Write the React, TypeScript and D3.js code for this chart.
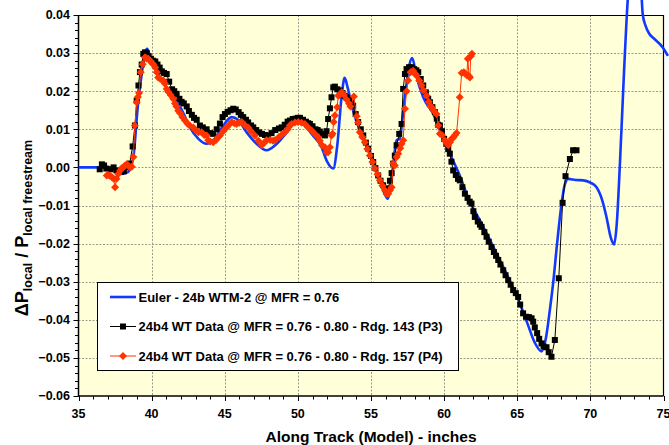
import React, { useEffect, useRef } from 'react';
import * as d3 from 'd3';

const W = 669;
const H = 445;

const xTickValues = [35, 40, 45, 50, 55, 60, 65, 70, 75];
const yTickValues = [0.04, 0.03, 0.02, 0.01, 0.0, -0.01, -0.02, -0.03, -0.04, -0.05, -0.06];

const legendLabels = [
  'Euler - 24b WTM-2 @ MFR = 0.76',
  '24b4 WT Data @ MFR = 0.76 - 0.80 - Rdg. 143 (P3)',
  '24b4 WT Data @ MFR = 0.76 - 0.80 - Rdg. 157 (P4)',
];

// Euler (blue) curve
const eulerX = [35.0, 36.0, 37.0, 37.5, 38.0, 38.4, 38.75, 39.05, 39.32, 39.55, 39.7, 39.9, 40.2, 40.57, 41.1, 41.71, 42.2, 42.62, 43.2, 43.76, 44.3, 44.9, 45.47, 45.9, 46.5, 47.18, 47.86, 48.5, 49.2, 49.7, 50.02, 50.5, 51.0, 51.6, 52.0, 52.42, 52.7, 53.0, 53.2, 53.4, 53.7, 54.02, 54.6, 55.2, 55.8, 56.13, 56.41, 56.75, 56.95, 57.3, 57.6, 57.82, 58.1, 58.57, 59.25, 59.8, 60.39, 61.0, 61.7, 62.44, 63.0, 63.59, 64.4, 65.18, 65.7, 66.2, 66.66, 66.95, 67.23, 67.45, 67.75, 68.03, 68.25, 68.48, 69.0, 69.51, 70.0, 70.42, 70.8, 71.1, 71.4, 71.62, 71.8, 72.01, 72.3, 72.55, 72.8, 73.1, 73.4, 73.58, 73.77, 74.04, 74.38, 74.95, 75.3];
const eulerY = [0.0, 0.0, 0.0, -0.0003, -0.0017, -0.0012, 0.0027, 0.0158, 0.0245, 0.03, 0.0311, 0.029, 0.0262, 0.0236, 0.0205, 0.0175, 0.014, 0.0105, 0.0075, 0.0062, 0.0075, 0.011, 0.0132, 0.0125, 0.0092, 0.0062, 0.0045, 0.006, 0.009, 0.0115, 0.0123, 0.011, 0.0085, 0.0055, 0.0015, -0.0003, 0.006, 0.019, 0.0235, 0.021, 0.016, 0.0119, 0.0065, 0.001, -0.0055, -0.0082, -0.003, 0.0071, 0.0075, 0.018, 0.0265, 0.0287, 0.024, 0.0184, 0.0141, 0.009, 0.0036, -0.0015, -0.0085, -0.0139, -0.018, -0.0226, -0.029, -0.0357, -0.041, -0.046, -0.0483, -0.045, -0.0374, -0.0305, -0.019, -0.0095, -0.0045, -0.003, -0.0033, -0.0034, -0.004, -0.0052, -0.0085, -0.013, -0.0185, -0.0202, -0.015, 0.0001, 0.025, 0.0437, 0.055, 0.058, 0.052, 0.0402, 0.0372, 0.035, 0.0337, 0.0315, 0.0293];

// WT data Rdg. 143 (P3) - black squares
const p3X = [36.45, 36.6, 36.75, 36.9, 37.2, 37.4, 37.6, 37.9, 38.1, 38.3, 38.5, 38.7, 38.86, 38.98, 39.1, 39.2, 39.32, 39.43, 39.55, 39.66, 39.8, 39.95, 40.1, 40.25, 40.4, 40.55, 40.7, 40.85, 41.03, 41.2, 41.4, 41.55, 41.71, 41.9, 42.05, 42.2, 42.4, 42.55, 42.75, 42.9, 43.08, 43.3, 43.5, 43.76, 44.0, 44.21, 44.45, 44.67, 44.85, 45.01, 45.2, 45.4, 45.58, 45.75, 45.95, 46.1, 46.26, 46.45, 46.6, 46.8, 46.95, 47.15, 47.35, 47.55, 47.75, 47.97, 48.2, 48.45, 48.7, 48.89, 49.1, 49.3, 49.46, 49.65, 49.85, 50.0, 50.14, 50.35, 50.55, 50.7, 50.82, 51.0, 51.2, 51.35, 51.5, 51.7, 51.85, 51.96, 52.07, 52.19, 52.3, 52.42, 52.53, 52.7, 52.87, 53.05, 53.2, 53.33, 53.5, 53.65, 53.78, 53.95, 54.12, 54.3, 54.47, 54.65, 54.81, 55.0, 55.15, 55.3, 55.49, 55.65, 55.83, 56.0, 56.07, 56.18, 56.3, 56.41, 56.52, 56.63, 56.75, 56.93, 57.09, 57.2, 57.32, 57.43, 57.6, 57.77, 57.95, 58.1, 58.23, 58.4, 58.57, 58.75, 58.91, 59.03, 59.2, 59.37, 59.5, 59.59, 59.71, 59.85, 60.0, 60.15, 60.28, 60.39, 60.5, 60.62, 60.8, 60.95, 61.07, 61.25, 61.42, 61.6, 61.75, 61.87, 62.0, 62.1, 62.3, 62.45, 62.56, 62.75, 62.9, 63.05, 63.24, 63.4, 63.55, 63.7, 63.85, 64.04, 64.2, 64.38, 64.55, 64.72, 64.9, 65.06, 65.2, 65.4, 65.6, 65.8, 65.98, 66.09, 66.2, 66.36, 66.5, 66.66, 66.8, 67.0, 67.15, 67.34, 67.57, 67.84, 68.1, 68.3, 68.6, 68.82, 69.05];
const p3Y = [-0.0005, 0.0008, 0.0005, -0.0003, -0.0005, 0.0, -0.0008, -0.0012, -0.001, 0.0, 0.001, 0.0055, 0.011, 0.0175, 0.0215, 0.025, 0.027, 0.0298, 0.0302, 0.03, 0.0292, 0.0285, 0.028, 0.0278, 0.027, 0.0262, 0.0252, 0.0248, 0.0245, 0.0225, 0.0205, 0.02, 0.0193, 0.018, 0.0172, 0.0168, 0.016, 0.0148, 0.0138, 0.013, 0.0125, 0.011, 0.0105, 0.01, 0.009, 0.0088, 0.01, 0.0115, 0.0132, 0.014, 0.0146, 0.015, 0.0154, 0.0152, 0.0145, 0.0138, 0.0132, 0.0125, 0.0118, 0.011, 0.0105, 0.0098, 0.0092, 0.0088, 0.0085, 0.0084, 0.009, 0.0098, 0.0102, 0.0105, 0.0112, 0.012, 0.0123, 0.0127, 0.0128, 0.013, 0.013, 0.0125, 0.012, 0.0116, 0.0114, 0.0108, 0.01, 0.0098, 0.0094, 0.0088, 0.0084, 0.0095, 0.0127, 0.0155, 0.0184, 0.021, 0.0212, 0.0205, 0.0202, 0.0195, 0.0188, 0.0184, 0.0178, 0.017, 0.0162, 0.014, 0.0119, 0.01, 0.0084, 0.0065, 0.0049, 0.003, 0.0014, -0.0002, -0.0021, -0.0035, -0.0047, -0.0058, -0.0065, -0.0055, -0.0035, -0.0015, 0.001, 0.0031, 0.0058, 0.0088, 0.0114, 0.0206, 0.0245, 0.0258, 0.0263, 0.0263, 0.0258, 0.0255, 0.025, 0.0232, 0.0215, 0.0197, 0.018, 0.0171, 0.0158, 0.0145, 0.0128, 0.0112, 0.011, 0.0095, 0.0075, 0.0062, 0.0048, 0.0036, 0.0015, -0.0008, -0.002, -0.003, -0.0034, -0.0052, -0.0069, -0.008, -0.009, -0.0095, -0.0115, -0.013, -0.0142, -0.015, -0.0156, -0.017, -0.0182, -0.0195, -0.0209, -0.0222, -0.0232, -0.0243, -0.0255, -0.027, -0.0283, -0.0296, -0.0308, -0.0322, -0.033, -0.034, -0.036, -0.0383, -0.0392, -0.0393, -0.0396, -0.0405, -0.042, -0.0435, -0.045, -0.0462, -0.047, -0.0472, -0.0485, -0.0497, -0.0453, -0.0291, -0.0093, -0.0023, 0.0022, 0.0045, 0.0045];

// WT data Rdg. 157 (P4) - red diamonds
const p4X = [36.93, 37.04, 37.15, 37.27, 37.4, 37.5, 37.6, 37.72, 37.85, 37.95, 38.06, 38.18, 38.3, 38.4, 38.52, 38.64, 38.75, 38.86, 38.98, 39.06, 39.14, 39.25, 39.39, 39.55, 39.65, 39.77, 39.9, 40.0, 40.11, 40.25, 40.35, 40.45, 40.6, 40.8, 40.9, 41.03, 41.15, 41.3, 41.48, 41.6, 41.7, 41.82, 41.95, 42.1, 42.28, 42.45, 42.6, 42.85, 43.0, 43.2, 43.42, 43.6, 43.76, 43.87, 44.0, 44.21, 44.4, 44.55, 44.67, 44.9, 45.13, 45.3, 45.47, 45.65, 45.81, 46.0, 46.16, 46.35, 46.6, 46.8, 47.06, 47.3, 47.52, 47.7, 47.86, 48.1, 48.3, 48.43, 48.7, 48.9, 49.11, 49.3, 49.45, 49.57, 49.8, 50.02, 50.25, 50.48, 50.7, 50.94, 51.15, 51.39, 51.5, 51.65, 51.85, 51.96, 52.07, 52.19, 52.3, 52.37, 52.45, 52.53, 52.69, 52.76, 52.83, 52.99, 53.15, 53.33, 53.5, 53.6, 53.83, 54.02, 54.12, 54.24, 54.4, 54.58, 54.75, 54.92, 55.1, 55.26, 55.45, 55.61, 55.78, 55.95, 56.07, 56.18, 56.3, 56.41, 56.52, 56.63, 56.75, 56.86, 57.0, 57.09, 57.2, 57.32, 57.43, 57.54, 57.7, 57.88, 58.0, 58.12, 58.3, 58.46, 58.6, 58.8, 58.95, 59.03, 59.14, 59.3, 59.48, 59.6, 59.71, 59.85, 60.05, 60.15, 60.28, 60.4, 60.51, 60.62, 60.75, 60.85, 61.07, 61.2, 61.35, 61.45, 61.55, 61.62, 61.7, 61.76, 61.82, 61.9];
const p4Y = [-0.0021, -0.002, -0.0022, -0.0025, -0.003, -0.0052, -0.003, -0.0017, -0.0008, -0.0002, 0.0, 0.0005, 0.0008, 0.0005, 0.0, 0.0002, 0.0027, 0.011, 0.0171, 0.0185, 0.0195, 0.025, 0.0271, 0.0289, 0.0286, 0.0285, 0.028, 0.0275, 0.0271, 0.0262, 0.025, 0.0236, 0.0232, 0.0228, 0.022, 0.0206, 0.0198, 0.019, 0.018, 0.0168, 0.016, 0.0149, 0.0142, 0.0132, 0.0123, 0.0115, 0.011, 0.0105, 0.0098, 0.0092, 0.0092, 0.0085, 0.0084, 0.0071, 0.0068, 0.0066, 0.0072, 0.008, 0.0084, 0.0095, 0.0105, 0.0112, 0.0119, 0.0116, 0.0114, 0.0117, 0.0119, 0.0112, 0.0105, 0.0095, 0.0084, 0.007, 0.0058, 0.0065, 0.0071, 0.0072, 0.007, 0.0071, 0.008, 0.0086, 0.0092, 0.01, 0.011, 0.0114, 0.0118, 0.0119, 0.0117, 0.0114, 0.0105, 0.0097, 0.0088, 0.0079, 0.007, 0.0058, 0.0053, 0.004, 0.004, 0.0053, 0.0084, 0.0088, 0.0119, 0.0136, 0.0158, 0.0188, 0.019, 0.0197, 0.019, 0.0178, 0.0168, 0.016, 0.0186, 0.0134, 0.0118, 0.0092, 0.008, 0.0066, 0.0048, 0.0031, 0.0014, -0.0003, -0.0018, -0.0034, -0.0048, -0.006, -0.007, -0.0069, -0.006, -0.0052, 0.001, 0.0005, 0.0027, 0.0036, 0.005, 0.0062, 0.0071, 0.0154, 0.02, 0.0228, 0.025, 0.0254, 0.0246, 0.0241, 0.0228, 0.0215, 0.0202, 0.0188, 0.0172, 0.0162, 0.0158, 0.0148, 0.014, 0.011, 0.0088, 0.0085, 0.0071, 0.0065, 0.0058, 0.0066, 0.0075, 0.0078, 0.0085, 0.009, 0.0184, 0.0248, 0.025, 0.0246, 0.0242, 0.0285, 0.024, 0.0236, 0.0292, 0.0298];

const BLUE = '#1238FF';
const RED = '#FF3300';
const FONT = 'Liberation Sans, Arial, sans-serif';

export default function App() {
  const ref = useRef<SVGSVGElement>(null);

  useEffect(() => {
    const svg = d3.select(ref.current);
    svg.selectAll('*').remove();

    const left = 78.5, right = 663.5, top = 15, bottom = 396;
    const x = d3.scaleLinear().domain([35, 75]).range([left, right]);
    const y = d3.scaleLinear().domain([-0.06, 0.04]).range([bottom, top]);

    svg.append('rect').attr('width', W).attr('height', H).attr('fill', '#ffffff');
    svg.append('rect').attr('x', left).attr('y', top).attr('width', right - left).attr('height', bottom - top)
      .attr('fill', '#FFFFD8');

    // grid
    const grid = svg.append('g').attr('stroke', '#9a9a8a').attr('stroke-width', 1).attr('stroke-dasharray', '2,1.5');
    xTickValues.slice(1, -1).forEach((v) => {
      grid.append('line').attr('x1', Math.round(x(v)) + 0.5).attr('x2', Math.round(x(v)) + 0.5).attr('y1', top).attr('y2', bottom);
    });
    yTickValues.slice(1, -1).forEach((v) => {
      grid.append('line').attr('y1', Math.round(y(v)) + 0.5).attr('y2', Math.round(y(v)) + 0.5).attr('x1', left).attr('x2', right);
    });

    // border top/right
    svg.append('path').attr('d', `M${left},${top + 0.5}H${right}V${bottom}`).attr('fill', 'none').attr('stroke', '#000').attr('stroke-width', 1.2);

    // axes
    const ax = svg.append('g').attr('stroke', '#000');
    ax.append('line').attr('x1', left).attr('x2', left).attr('y1', top).attr('y2', bottom + 0.5).attr('stroke-width', 1.5);
    ax.append('line').attr('x1', left).attr('x2', right).attr('y1', bottom).attr('y2', bottom).attr('stroke-width', 1.5);
    // y ticks
    d3.range(0, 51).forEach((i) => {
      const v = -0.06 + i * 0.002;
      const major = i % 5 === 0;
      const yy = Math.round(y(v)) + 0.5;
      ax.append('line').attr('x1', left - (major ? 5 : 3.5)).attr('x2', left).attr('y1', yy).attr('y2', yy).attr('stroke-width', 1);
    });
    d3.range(0, 41).forEach((i) => {
      const v = 35 + i;
      const major = i % 5 === 0;
      const xx = Math.round(x(v)) + 0.5;
      ax.append('line').attr('y1', bottom).attr('y2', bottom + (major ? 5 : 3.5)).attr('x1', xx).attr('x2', xx).attr('stroke-width', 1);
    });

    // tick labels
    const tl = svg.append('g').attr('font-family', FONT).attr('font-weight', 'bold').attr('font-size', 12.5).attr('fill', '#000');
    yTickValues.forEach((v) => {
      tl.append('text').attr('x', 70).attr('y', y(v)).attr('dy', '0.35em').attr('text-anchor', 'end').text(d3.format('.2f')(v));
    });
    xTickValues.forEach((v) => {
      tl.append('text').attr('x', x(v)).attr('y', 418).attr('text-anchor', 'middle').text(String(v));
    });

    // axis titles
    svg.append('text').attr('x', x(55)).attr('y', 442).attr('text-anchor', 'middle')
      .attr('font-family', FONT).attr('font-weight', 'bold').attr('font-size', 15.5).text('Along Track (Model) - inches');

    const yt = svg.append('text').attr('transform', 'translate(28,228) rotate(-90)').attr('text-anchor', 'middle')
      .attr('font-family', FONT).attr('font-weight', 'bold').attr('font-size', 18);
    yt.append('tspan').text('ΔP');
    yt.append('tspan').attr('font-size', 12.5).attr('dy', 4).text('local');
    yt.append('tspan').attr('dy', -4).text(' / P');
    yt.append('tspan').attr('font-size', 12.5).attr('dy', 4).text('local freestream');

    // euler line
    const line = d3.line<[number, number]>().x((d) => x(d[0])).y((d) => y(d[1]));
    const euler: [number, number][] = eulerX.map((v, i) => [v, eulerY[i]]);
    svg.append('path').attr('d', line.curve(d3.curveMonotoneX)(euler) as string)
      .attr('fill', 'none').attr('stroke', BLUE).attr('stroke-width', 2.6);

    // P3 black
    const p3: [number, number][] = p3X.map((v, i) => [v, p3Y[i]]);
    const lin = d3.line<[number, number]>().x((d) => x(d[0])).y((d) => y(d[1]));
    svg.append('path').attr('d', lin(p3) as string).attr('fill', 'none').attr('stroke', '#000').attr('stroke-width', 1);
    svg.append('g').selectAll('rect').data(p3).join('rect')
      .attr('x', (d) => x(d[0]) - 3).attr('y', (d) => y(d[1]) - 3).attr('width', 6).attr('height', 6).attr('fill', '#000');

    // P4 red
    const p4: [number, number][] = p4X.map((v, i) => [v, p4Y[i]]);
    svg.append('path').attr('d', lin(p4) as string).attr('fill', 'none').attr('stroke', RED).attr('stroke-width', 1);
    const diamond = (cx: number, cy: number, r: number) => `M${cx},${cy - r}L${cx + r},${cy}L${cx},${cy + r}L${cx - r},${cy}Z`;
    svg.append('g').selectAll('path').data(p4).join('path')
      .attr('d', (d) => diamond(x(d[0]), y(d[1]), 4)).attr('fill', RED);

    // legend
    const lg = svg.append('g');
    lg.append('rect').attr('x', 97.5).attr('y', 282.5).attr('width', 361).attr('height', 88)
      .attr('fill', '#fff').attr('stroke', '#000').attr('stroke-width', 1);
    const rows = [297, 326.5, 356];
    lg.append('line').attr('x1', 110).attr('x2', 136).attr('y1', rows[0]).attr('y2', rows[0]).attr('stroke', BLUE).attr('stroke-width', 2.6);
    lg.append('line').attr('x1', 110).attr('x2', 136).attr('y1', rows[1]).attr('y2', rows[1]).attr('stroke', '#000').attr('stroke-width', 1);
    lg.append('rect').attr('x', 120).attr('y', rows[1] - 3).attr('width', 6).attr('height', 6).attr('fill', '#000');
    lg.append('line').attr('x1', 110).attr('x2', 136).attr('y1', rows[2]).attr('y2', rows[2]).attr('stroke', RED).attr('stroke-width', 1);
    lg.append('path').attr('d', diamond(123, rows[2], 4)).attr('fill', RED);
    legendLabels.forEach((t, i) => {
      lg.append('text').attr('x', 138.5).attr('y', rows[i]).attr('dy', '0.35em')
        .attr('font-family', FONT).attr('font-weight', 'bold').attr('font-size', 13).text(t);
    });
  }, []);

  return <svg ref={ref} width={W} height={H} style={{ position: 'absolute', left: 0, top: 0, display: 'block' }} />;
}
